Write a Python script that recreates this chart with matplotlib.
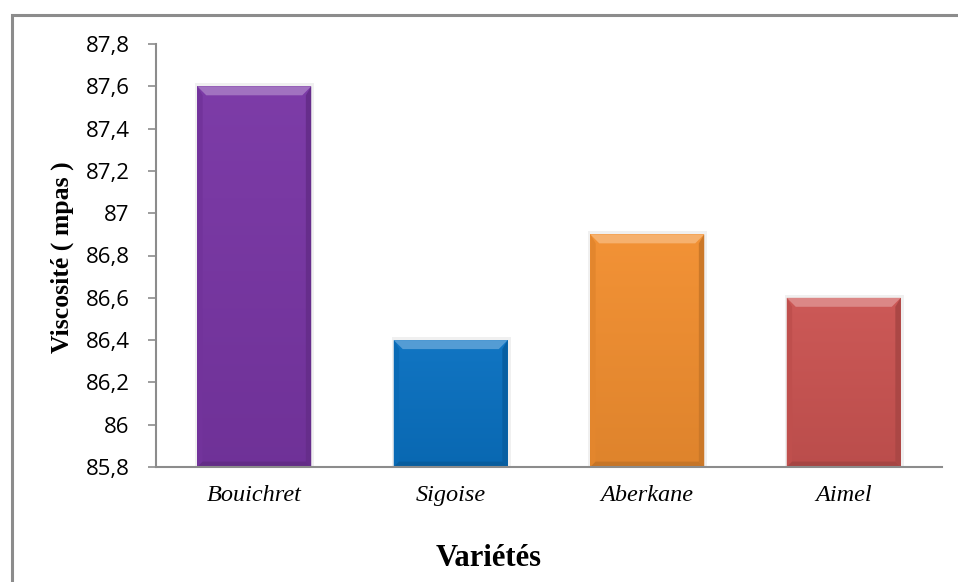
import numpy as np
import matplotlib
matplotlib.use("Agg")
import matplotlib.pyplot as plt
from matplotlib.patches import Polygon, Rectangle
from matplotlib.colors import to_rgb

varietes = ["Bouichret", "Sigoise", "Aberkane", "Aimel"]
viscosite = [87.6, 86.4, 86.9, 86.6]
couleurs = ["#7936a5", "#0a71c1", "#f28f30", "#cb5452"]
yticks = [85.8, 86.0, 86.2, 86.4, 86.6, 86.8, 87.0, 87.2, 87.4, 87.6, 87.8]
ytick_labels = ["85,8", "86", "86,2", "86,4", "86,6", "86,8", "87", "87,2", "87,4", "87,6", "87,8"]

fig = plt.figure(figsize=(9.58, 5.82), dpi=100)
ax = fig.add_axes([156 / 958, 1 - 467 / 582, 786 / 958, 423 / 582])

# grey frame around the chart area
fig.patches.append(Rectangle((12 / 958, -0.1), 1.2, 1 - 15 / 582 + 0.1,
                             transform=fig.transFigure, fill=False,
                             edgecolor="#8c8c8c", linewidth=2.2))

x = np.arange(len(varietes))
width = 0.58
bars = ax.bar(x, np.array(viscosite) - 85.8, bottom=85.8, width=width,
              color=couleurs, edgecolor="none", zorder=2)

ax.set_xlim(-0.5, 3.5)
ax.set_ylim(85.8, 87.8)


def mix(c, other, t):
    c = np.array(to_rgb(c))
    return tuple(c * (1 - t) + np.array(other) * t)


# pixel -> data scale for the bevel edges
fig.canvas.draw()
inv = ax.transData.inverted()
p0 = inv.transform((0, 0))
p1 = inv.transform((1, 1))
dx, dy = p1[0] - p0[0], p1[1] - p0[1]

for b, c in zip(bars, couleurs):
    x0, y0 = b.get_x(), b.get_y()
    w, h = b.get_width(), b.get_height()
    x1, y1 = x0 + w, y0 + h
    # soft shadow
    ax.add_patch(Rectangle((x0 - 2 * dx, y0), w + 5 * dx, h + 3 * dy,
                           color="#000000", alpha=0.06, zorder=1, lw=0))
    # vertical gradient
    grad = np.linspace(0, 1, 256)[:, None]
    top = np.array(mix(c, (1, 1, 1), 0.03))
    bot = np.array(mix(c, (0, 0, 0), 0.08))
    img = top[None, None, :] * (1 - grad[..., None]) + bot[None, None, :] * grad[..., None]
    im = ax.imshow(img, extent=(x0, x1, y0, y1), origin="upper",
                   aspect="auto", zorder=2.5, interpolation="bilinear")
    im.set_clip_path(b)
    # bevel edges
    e = 9
    ex, ey = e * dx, e * dy
    ax.add_patch(Polygon([(x0, y1), (x1, y1), (x1 - ex, y1 - ey), (x0 + ex, y1 - ey)],
                         closed=True, color=mix(c, (1, 1, 1), 0.3), lw=0, zorder=3))
    ax.add_patch(Polygon([(x0, y1), (x0 + ex * 0.6, y1 - ey), (x0 + ex * 0.6, y0 + ey * 0.6), (x0, y0)],
                         closed=True, color=mix(c, (0, 0, 0), 0.06), lw=0, zorder=3))
    ax.add_patch(Polygon([(x1, y1), (x1 - ex * 0.6, y1 - ey), (x1 - ex * 0.6, y0 + ey * 0.6), (x1, y0)],
                         closed=True, color=mix(c, (0, 0, 0), 0.16), lw=0, zorder=3))
    ax.add_patch(Polygon([(x0, y0), (x0 + ex * 0.6, y0 + ey * 0.6), (x1 - ex * 0.6, y0 + ey * 0.6), (x1, y0)],
                         closed=True, color=mix(c, (0, 0, 0), 0.18), lw=0, zorder=3))

for s in ["top", "right"]:
    ax.spines[s].set_visible(False)
for s in ["left", "bottom"]:
    ax.spines[s].set_color("#8c8c8c")
    ax.spines[s].set_linewidth(1.5)
ax.spines["bottom"].set_zorder(4)

ax.set_yticks(yticks)
ax.set_yticklabels(ytick_labels, fontsize=16, family="Open Sans")
ax.tick_params(axis="y", length=6, width=1.2, color="#8c8c8c", pad=13)
ax.set_xticks(x)
ax.set_xticklabels(varietes, fontsize=17.5, family="Liberation Serif", style="italic")
ax.tick_params(axis="x", length=0, pad=13)

fig.text(62 / 958, 1 - 257 / 582, "Viscosité ( mpas )", rotation=90, ha="center", va="center",
         fontsize=18.5, fontweight="bold", family="Liberation Serif")
fig.text(489 / 958, 1 - 559 / 582, "Variétés", ha="center", va="center",
         fontsize=22, fontweight="bold", family="Liberation Serif")

fig.savefig("out.png", dpi=100)
